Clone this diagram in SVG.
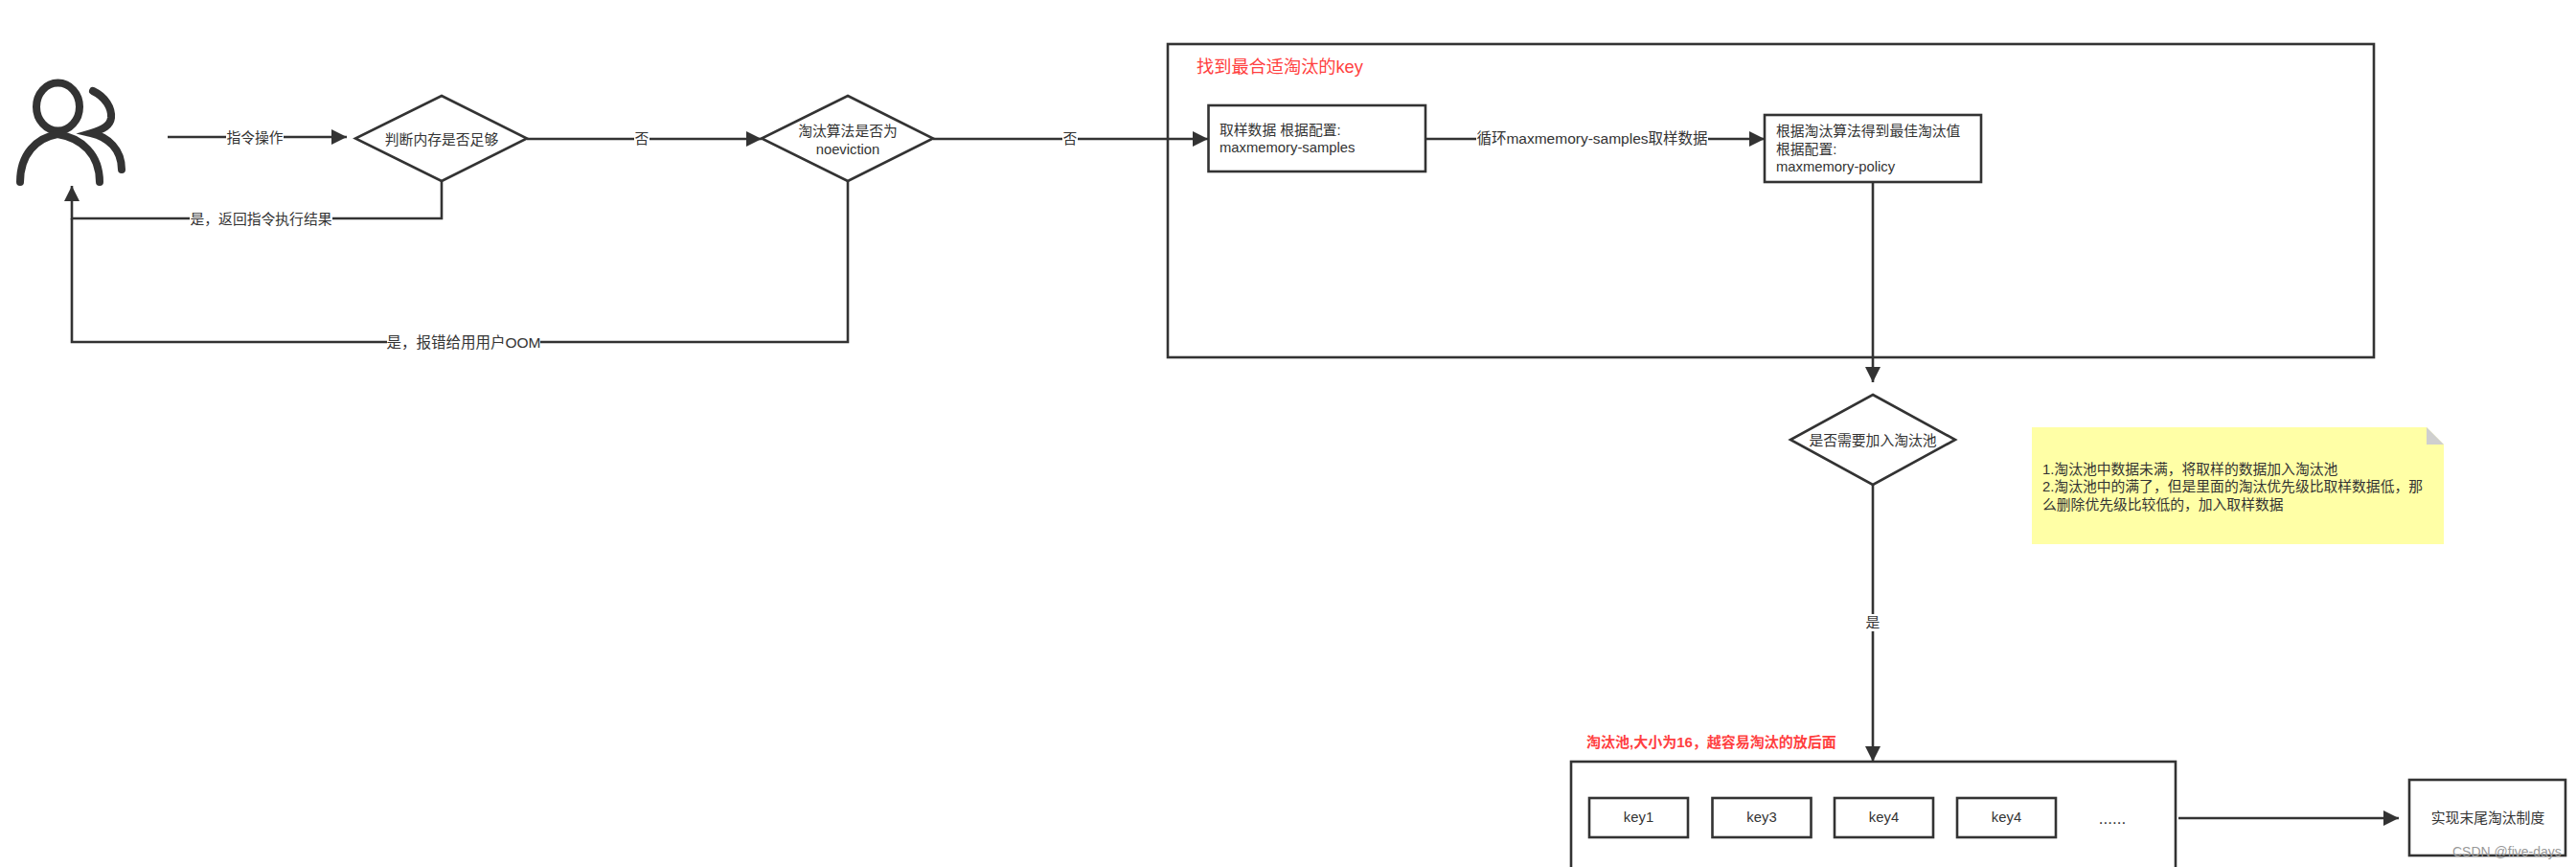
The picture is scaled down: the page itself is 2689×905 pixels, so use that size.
<svg xmlns="http://www.w3.org/2000/svg" width="2689" height="905" viewBox="0 0 2689 905">
<style>
text{font-family:"Liberation Sans","Noto Sans CJK SC",sans-serif;font-size:14.8px;fill:#333}
.m{text-anchor:middle}
.s{fill:#fff;stroke:#333;stroke-width:2.6}
.l{fill:none;stroke:#333;stroke-width:2.6}
.b{fill:#fff}
.r{fill:#ff4040}
</style>
<defs><marker id="a" markerUnits="userSpaceOnUse" markerWidth="18" markerHeight="18" refX="16" refY="8" orient="auto"><path d="M0 0L16 8L0 16z" fill="#333"/></marker></defs>
<g transform="translate(0,1)">
<g id="user" fill="none" stroke="#333" stroke-linecap="round">
<ellipse cx="60.500" cy="110.500" rx="22.500" ry="25" stroke-width="8"/>
<path d="M21 189C21 160 38 143 60 139C85 143 104 160 104 189" stroke-width="8"/>
<path d="M97 94C110 100 117 112 116 122C115 130 108 134 95 138C113 142 127 155 127 176" stroke-width="8"/>
</g>
<g id="container"><rect class="s" x="1219" y="45" width="1259" height="327"/><text class="r" x="1249" y="75" style="font-size:18.2px">找到最合适淘汰的key</text></g>
<g id="pool"><rect class="s" x="1640" y="794" width="631" height="130"/><text class="r" x="1656" y="779" style="font-weight:bold;font-size:15px">淘汰池,大小为16，越容易淘汰的放后面</text></g>
<g id="connectors">
<path class="l" d="M175 142H362" marker-end="url(#a)"/>
<path class="l" d="M550 144H795" marker-end="url(#a)"/>
<path class="l" d="M974 144H1261" marker-end="url(#a)"/>
<path class="l" d="M1488 144H1842" marker-end="url(#a)"/>
<path class="l" d="M461 188V227H75V193" marker-end="url(#a)"/>
<path class="l" d="M885 188V356H75V227"/>
<path class="l" d="M1955 189V398" marker-end="url(#a)"/>
<path class="l" d="M1955 505V794" marker-end="url(#a)"/>
<path class="l" d="M2274 853H2504" marker-end="url(#a)"/>
<rect class="b" x="236" y="134" width="60" height="18"/><text class="m" x="266" y="148">指令操作</text>
<rect class="b" x="662" y="135" width="16" height="18"/><text class="m" x="670" y="149">否</text>
<rect class="b" x="1109" y="135" width="16" height="18"/><text class="m" x="1117" y="149">否</text>
<rect class="b" x="1541" y="135" width="242" height="18"/><text class="m" x="1662" y="149" style="font-size:15.500px">循环maxmemory-samples取样数据</text>
<rect class="b" x="198" y="219" width="149" height="18"/><text class="m" x="272.500" y="233">是，返回指令执行结果</text>
<rect class="b" x="404" y="348" width="160" height="18"/><text class="m" x="484" y="362" style="font-size:15.500px">是，报错给用用户OOM</text>
<rect class="b" x="1946" y="640" width="18" height="18"/><text class="m" x="1955" y="654">是</text>
</g>
<g id="d1"><path class="s" d="M461 99L550 143.500L461 188L371 143.500z"/><text class="m" x="461" y="150">判断内存是否足够</text></g>
<g id="d2"><path class="s" d="M885 99L974 143.500L885 188L795 143.500z"/><text class="m" x="885" y="141">淘汰算法是否为</text><text class="m" x="885" y="160">noeviction</text></g>
<g id="a1"><rect class="s" x="1261.500" y="109" width="226.500" height="69"/><text x="1273" y="140">取样数据 根据配置:</text><text x="1273" y="158">maxmemory-samples</text></g>
<g id="b1"><rect class="s" x="1842" y="119" width="226" height="70"/><text x="1854" y="141">根据淘汰算法得到最佳淘汰值</text><text x="1854" y="160">根据配置:</text><text x="1854" y="178">maxmemory-policy</text></g>
<g id="d3"><path class="s" d="M1955 411L2041 458L1955 505L1869 458z"/><text class="m" x="1955" y="464">是否需要加入淘汰池</text></g>
<g id="note"><path d="M2121 445H2533L2551 463V567H2121z" fill="#ffffa6"/><path d="M2533 445L2551 463H2533z" fill="#cfcfcf"/>
<text x="2132" y="494">1.淘汰池中数据未满，将取样的数据加入淘汰池</text><text x="2132" y="512">2.淘汰池中的满了，但是里面的淘汰优先级比取样数据低，那</text><text x="2132" y="531">么删除优先级比较低的，加入取样数据</text></g>
<g id="k1"><rect class="s" x="1659" y="832" width="103" height="41"/><text class="m" x="1710.500" y="857">key1</text></g>
<g id="k2"><rect class="s" x="1787.500" y="832" width="103" height="41"/><text class="m" x="1839" y="857">key3</text></g>
<g id="k3"><rect class="s" x="1915" y="832" width="103" height="41"/><text class="m" x="1966.500" y="857">key4</text></g>
<g id="k4"><rect class="s" x="2043" y="832" width="103" height="41"/><text class="m" x="2094.500" y="857">key4</text></g>
<g id="dots"><text class="m" x="2205" y="859" style="font-size:17px">......</text></g>
<g id="tail"><rect class="s" x="2515" y="813" width="163" height="79"/><text class="m" x="2597" y="858">实现末尾淘汰制度</text></g>
<text x="2560" y="893" style="fill:#999;font-size:14px">CSDN @five-days</text>
</g>
</svg>
